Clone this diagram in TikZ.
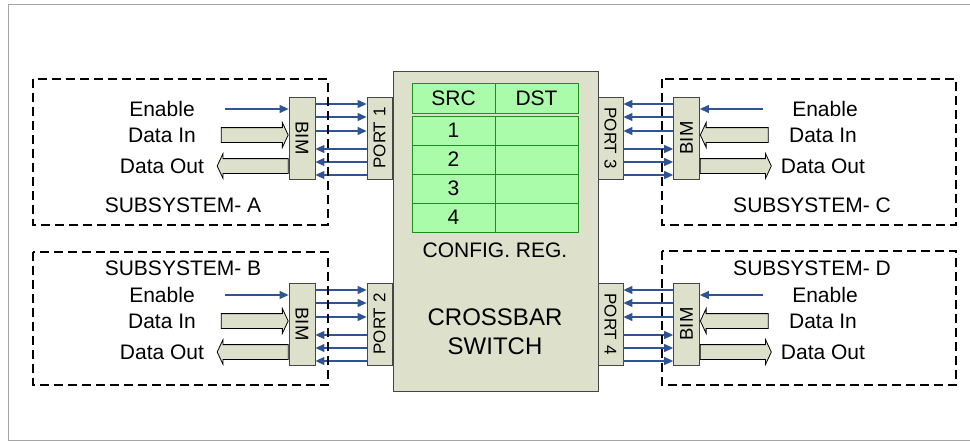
\documentclass[tikz,border=0pt]{standalone}
\usepackage{fontspec}
\setmainfont{Liberation Sans}
\usetikzlibrary{positioning, calc, arrows.meta, shapes.arrows}

\definecolor{boxfill}{RGB}{221,224,203}
\definecolor{boxline}{RGB}{70,70,70}
\definecolor{regfill}{RGB}{170,252,170}
\definecolor{regline}{RGB}{30,140,30}
\definecolor{sigblue}{RGB}{47,84,150}

\begin{document}
\begin{tikzpicture}[x=1pt, y=-1pt,
    txt/.style={font=\fontsize{21}{25}\selectfont},
    blk/.style={draw=boxline, fill=boxfill, line width=0.8pt, inner sep=0pt},
    portbox/.style={blk, minimum width=25pt, minimum height=82pt, font=\fontsize{17}{20}\selectfont},
    bimbox/.style={blk, minimum width=26pt, minimum height=82pt, font=\fontsize{18.5}{22}\selectfont},
    cell/.style={draw=regline, fill=regfill, line width=0.8pt, minimum width=83pt, minimum height=29pt, inner sep=0pt, txt},
    sig/.style={sigblue, line width=1.1pt, -{Triangle[length=9pt,width=8pt]}},
    bus/.style={single arrow, draw=black, fill=boxfill, line width=0.8pt, inner sep=7pt,
        single arrow head extend=5pt, single arrow tip angle=130},
    subsys/.style={black, line width=2.6pt, dash pattern=on 9pt off 5pt}]

    \useasboundingbox (0,0) rectangle (970,442);
    \draw[gray!70, line width=1pt] (970,4) -- (8,4) -- (8,440) -- (970,440);

    % crossbar switch and its configuration register
    \node[blk, minimum width=205pt, minimum height=320pt] (xbar) at (495.5,231) {};
    \node[cell, minimum height=30pt] (srchd) at (453.5,98) {SRC};
    \node[cell, minimum height=30pt] (dsthd) at (536.5,98) {DST};
    \foreach \r in {1,...,4} {
        \node[cell] (src\r) at (453.5,101.5+29*\r) {\r};
        \node[cell] (dst\r) at (536.5,101.5+29*\r) {};
    }
    \node[txt] (cfglbl) at (495,250) {CONFIG. REG.};
    \node[font=\fontsize{24}{29}\selectfont, align=center] (xbarlbl) at (495,332) {CROSSBAR\\SWITCH};

    % subsystems on the left
    \foreach \s/\p/\yc in {A/1/138, B/2/324} {
        \node[bimbox] (bim\s) at (302,\yc) {\rotatebox{-90}{BIM}};
        \node[portbox] (port\p) at (379.5,\yc) {\rotatebox{90}{PORT \p}};
        \coordinate (en\s) at (225,\yc-29);
        \draw[sig] (en\s) -- (bim\s.west |- en\s);
        \node[bus, minimum height=67pt, anchor=tip] (din\s) at ($(bim\s.west)+(0,-3)$) {};
        \node[bus, minimum height=71pt, anchor=tail, shape border rotate=180] (dout\s) at ($(bim\s.west)+(0,28)$) {};
        \node[txt] (enl\s) at (162,\yc-29) {Enable};
        \node[txt] (dinl\s) at (162,\yc-3) {Data In};
        \node[txt] (doutl\s) at (162,\yc+28) {Data Out};
        \foreach \dy in {-34,-21,-7}
            \draw[sig] ($(bim\s.east)+(0,\dy)$) -- ($(port\p.west)+(0,\dy)$);
        \foreach \dy in {11,24,37}
            \draw[sig] ($(port\p.west)+(0,\dy)$) -- ($(bim\s.east)+(0,\dy)$);
    }

    % subsystems on the right
    \foreach \s/\p/\yc in {C/3/138, D/4/324} {
        \node[bimbox] (bim\s) at (686.5,\yc) {\rotatebox{90}{BIM}};
        \node[portbox] (port\p) at (610.5,\yc) {\rotatebox{-90}{PORT \p}};
        \coordinate (en\s) at (763,\yc-29);
        \draw[sig] (en\s) -- (bim\s.east |- en\s);
        \node[bus, minimum height=68pt, anchor=tip, shape border rotate=180] (din\s) at ($(bim\s.east)+(0,-3)$) {};
        \node[bus, minimum height=71pt, anchor=tail] (dout\s) at ($(bim\s.east)+(0,28)$) {};
        \node[txt] (enl\s) at (825,\yc-29) {Enable};
        \node[txt] (dinl\s) at (823,\yc-3) {Data In};
        \node[txt] (doutl\s) at (823,\yc+28) {Data Out};
        \foreach \dy in {-34,-21,-7}
            \draw[sig] ($(bim\s.west)+(0,\dy)$) -- ($(port\p.east)+(0,\dy)$);
        \foreach \dy in {11,24,37}
            \draw[sig] ($(port\p.east)+(0,\dy)$) -- ($(bim\s.west)+(0,\dy)$);
    }

    \node[txt] (sysA) at (183,205) {SUBSYSTEM- A};
    \node[txt] (sysB) at (183,268) {SUBSYSTEM- B};
    \node[txt] (sysC) at (812,205) {SUBSYSTEM- C};
    \node[txt] (sysD) at (812,268) {SUBSYSTEM- D};

    \draw[subsys] (33,79) rectangle (328,225);
    \draw[subsys] (33,252) rectangle (328,385);
    \draw[subsys] (662,79) rectangle (956,225);
    \draw[subsys] (662,251) rectangle (956,385);
\end{tikzpicture}
\end{document}
